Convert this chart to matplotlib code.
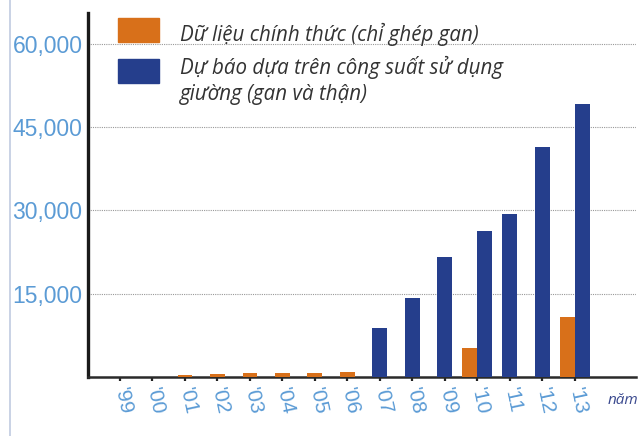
import numpy as np
import matplotlib.pyplot as plt
from matplotlib.patches import Rectangle
from matplotlib.lines import Line2D

# dữ liệu
years = ["'99", "'00", "'01", "'02", "'03", "'04", "'05", "'06",
         "'07", "'08", "'09", "'10", "'11", "'12", "'13"]
official = [0, 0, 400, 550, 720, 720, 720, 900,
            0, 0, 0, 5200, 0, 0, 10800]
forecast = [0, 0, 0, 0, 0, 0, 0, 0,
            8800, 14200, 21600, 26300, 29300, 41400, 49100]
yticks = [15000, 30000, 45000, 60000]
labels = ["Dữ liệu chính thức (chỉ ghép gan)",
          "Dự báo dựa trên công suất sử dụng\ngiường (gan và thận)"]

ORANGE = "#d8701a"
BLUE = "#253e8c"
TICKC = "#5b9bd5"

W, H = 638, 436
fig = plt.figure(figsize=(W / 100, H / 100), dpi=100)
ax = fig.add_axes([88 / W, 59 / H, (636 - 88) / W, (377 - 13) / H])

x = np.arange(len(years))
off = np.array(official)
fc = np.array(forecast)
w = 0.46
both = (off > 0) & (fc > 0)
ax.bar(x - np.where(both, w / 2, 0), off, width=w, color=ORANGE, zorder=3)
ax.bar(x + np.where(both, w / 2, 0), fc, width=w, color=BLUE, zorder=3)

ax.set_xlim(-0.985, 15.88)
ax.set_ylim(0, 65500)

ax.set_yticks(yticks)
ax.set_yticklabels([f"{v:,}" for v in yticks], color=TICKC,
                   family="Liberation Sans", fontsize=16.5)
ax.tick_params(axis="y", length=0, pad=4)
ax.grid(axis="y", linestyle=(0, (1, 1)), color="#999999", linewidth=0.8)
ax.set_axisbelow(True)

ax.set_xticks(x)
ax.set_xticklabels(years, color=TICKC, family="Liberation Sans",
                   fontsize=15, rotation=-78, rotation_mode="anchor",
                   ha="left", va="center")
ax.tick_params(axis="x", length=3, width=1.6, color="#222222", pad=5)

for s in ["top", "right"]:
    ax.spines[s].set_visible(False)
ax.spines["left"].set_color("#1a1a1a")
ax.spines["left"].set_linewidth(2.4)
ax.spines["bottom"].set_color("#2a2a2a")
ax.spines["bottom"].set_linewidth(1.8)

# chú thích (vẽ tay); base = đường chân chữ của dòng cuối
def px(xp, yp):
    return xp / W, 1 - yp / H

for (y0, base, col, lab) in [(18, 41, ORANGE, labels[0]),
                             (59, 100, BLUE, labels[1])]:
    fig.add_artist(Rectangle(px(118, y0 + 24), 41 / W, 24 / H,
                             transform=fig.transFigure, color=col))
    fig.text(*px(180, base), lab, family="Open Sans", style="italic",
             fontsize=14.8, color="#333333", va="baseline",
             linespacing=1.3)

fig.text(*px(608, 404), "năm", family="Open Sans", style="italic",
         fontsize=11, color="#3b4a8f", va="baseline")

# đường trang trí bên trái
fig.add_artist(Line2D([9.5 / W, 9.5 / W], [0, 1], transform=fig.transFigure,
                      color="#c0cbe0", linewidth=1.2))

plt.savefig("out.png", dpi=100)
